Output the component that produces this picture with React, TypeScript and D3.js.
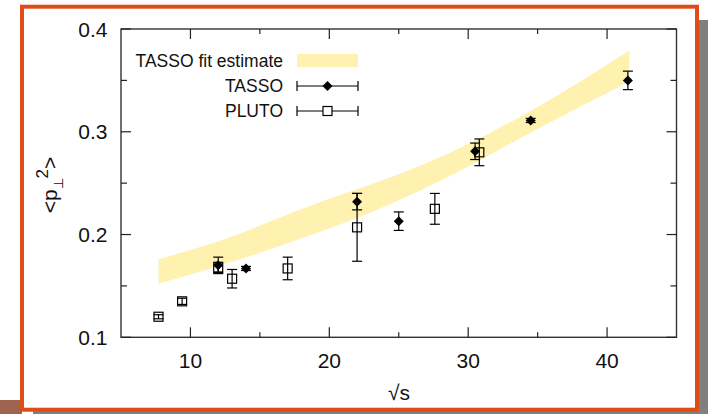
import React from "react";
import * as d3 from "d3";

// Band (TASSO fit estimate)
const bandSqrtS = [7.7, 11.7, 19.4, 22, 28.1, 34.6, 41.6];
const bandLow = [0.152, 0.168, 0.203, 0.216, 0.253, 0.3, 0.349];
const bandHigh = [0.176, 0.192, 0.232, 0.244, 0.276, 0.321, 0.379];

// TASSO points
const tassoSqrtS = [12, 14, 22, 25, 30.5, 34.5, 41.5];
const tassoVal = [0.17, 0.167, 0.232, 0.213, 0.281, 0.311, 0.35];
const tassoErr = [0.008, 0.002, 0.008, 0.009, 0.008, 0.002, 0.009];

// PLUTO points
const plutoSqrtS = [7.7, 9.4, 12, 13, 17, 22, 27.6, 30.8];
const plutoVal = [0.12, 0.135, 0.168, 0.157, 0.167, 0.207, 0.225, 0.28];
const plutoErr = [0.002, 0.003, 0.005, 0.009, 0.011, 0.033, 0.015, 0.013];

const xMajor = [10, 20, 30, 40];
const xMinor = [15, 25, 35];
const yMajor = [0.1, 0.2, 0.3, 0.4];
const yMinor = [0.15, 0.25, 0.35];

const legendLabels = ["TASSO fit estimate", "TASSO", "PLUTO"];

const FONT = "'Liberation Sans', Arial, sans-serif";

export default function App() {
  const x = d3.scaleLinear().domain([5, 45]).range([121, 676.5]);
  const y = d3.scaleLinear().domain([0.1, 0.4]).range([337.3, 29]);
  const [x0, x1] = x.range();
  const [y0, y1] = y.range();

  const bandData = bandSqrtS.map((s, i) => ({ s, lo: bandLow[i], hi: bandHigh[i] }));
  const area = d3
    .area<{ s: number; lo: number; hi: number }>()
    .x((d) => x(d.s))
    .y0((d) => y(d.lo))
    .y1((d) => y(d.hi))
    .curve(d3.curveMonotoneX);

  const cap = 5;
  const diamond = (cx: number, cy: number, r = 5) =>
    `M${cx},${cy - r}L${cx + r},${cy}L${cx},${cy + r}L${cx - r},${cy}Z`;

  const errBar = (cx: number, v: number, e: number, key: string) => (
    <g key={key} stroke="#000" strokeWidth={1.2}>
      <line x1={cx} x2={cx} y1={y(v - e)} y2={y(v + e)} />
      <line x1={cx - cap} x2={cx + cap} y1={y(v - e)} y2={y(v - e)} />
      <line x1={cx - cap} x2={cx + cap} y1={y(v + e)} y2={y(v + e)} />
    </g>
  );

  const legX0 = 297;
  const legX1 = 358;
  const legXm = (legX0 + legX1) / 2;
  const legY = [60.5, 86, 111];

  return (
    <svg
      width={708}
      height={414}
      style={{ position: "absolute", left: 0, top: 0, display: "block" }}
      fontFamily={FONT}
    >
      <rect x={0} y={0} width={708} height={414} fill="#fff" />
      {/* slide decoration */}
      <rect x={0} y={400} width={22} height={14} fill="#9e6450" />
      <rect x={699} y={20} width={9} height={394} fill="#808080" />
      <rect x={33} y={411} width={675} height={3} fill="#808080" />
      <rect x={22} y={6.7} width={675} height={403} fill="#fff" stroke="#e04b1a" strokeWidth={4} />

      {/* band */}
      <path d={area(bandData) || ""} fill="#fff1b0" />

      {/* axes frame */}
      <rect x={x0} y={y1} width={x1 - x0} height={y0 - y1} fill="none" stroke="#333" strokeWidth={1.4} />
      {xMajor.map((v) => (
        <g key={"xM" + v} stroke="#222" strokeWidth={1.2}>
          <line x1={x(v)} x2={x(v)} y1={y0} y2={y0 - 10} />
          <line x1={x(v)} x2={x(v)} y1={y1} y2={y1 + 10} />
        </g>
      ))}
      {xMinor.map((v) => (
        <g key={"xm" + v} stroke="#222" strokeWidth={1.2}>
          <line x1={x(v)} x2={x(v)} y1={y0} y2={y0 - 5} />
          <line x1={x(v)} x2={x(v)} y1={y1} y2={y1 + 5} />
        </g>
      ))}
      {yMajor.map((v) => (
        <g key={"yM" + v} stroke="#222" strokeWidth={1.2}>
          <line x1={x0} x2={x0 + 10} y1={y(v)} y2={y(v)} />
          <line x1={x1} x2={x1 - 10} y1={y(v)} y2={y(v)} />
        </g>
      ))}
      {yMinor.map((v) => (
        <g key={"ym" + v} stroke="#222" strokeWidth={1.2}>
          <line x1={x0} x2={x0 + 6} y1={y(v)} y2={y(v)} />
          <line x1={x1} x2={x1 - 6} y1={y(v)} y2={y(v)} />
        </g>
      ))}

      {/* tick labels */}
      {xMajor.map((v) => (
        <text key={"xl" + v} x={x(v)} y={368} fontSize={21} textAnchor="middle" fill="#111">
          {v}
        </text>
      ))}
      {yMajor.map((v) => (
        <text key={"yl" + v} x={107.5} y={y(v) + 7.5} fontSize={21} textAnchor="end" fill="#111">
          {v.toFixed(1)}
        </text>
      ))}

      {/* axis titles */}
      <text x={399} y={400} fontSize={21} textAnchor="middle" fill="#111">
        √s
      </text>
      <text transform="translate(57,185) rotate(-90)" fontSize={21} textAnchor="middle" fill="#111">
        <tspan>&lt;p</tspan>
        <tspan fontSize={13} dy={6}>⊥</tspan>
        <tspan fontSize={17} dy={-15}>2</tspan>
        <tspan fontSize={21} dy={9}>&gt;</tspan>
      </text>

      {/* PLUTO */}
      {plutoSqrtS.map((s, i) => (
        <g key={"p" + i}>
          {errBar(x(s), plutoVal[i], plutoErr[i], "pe" + i)}
          <rect
            x={x(s) - 4.5}
            y={y(plutoVal[i]) - 4.5}
            width={9}
            height={9}
            fill="none"
            stroke="#000"
            strokeWidth={1.2}
          />
        </g>
      ))}

      {/* TASSO */}
      {tassoSqrtS.map((s, i) => (
        <g key={"t" + i}>
          {errBar(x(s), tassoVal[i], tassoErr[i], "te" + i)}
          <path d={diamond(x(s), y(tassoVal[i]))} fill="#000" />
        </g>
      ))}

      {/* legend */}
      {legendLabels.map((l, i) => (
        <text key={"lg" + i} x={283} y={legY[i] + 6} fontSize={17.5} textAnchor="end" fill="#111">
          {l}
        </text>
      ))}
      <rect x={legX0} y={54} width={legX1 - legX0} height={13} fill="#fff1b0" />
      {[1, 2].map((i) => (
        <g key={"lb" + i} stroke="#000" strokeWidth={1.2}>
          <line x1={legX0} x2={legX1} y1={legY[i]} y2={legY[i]} />
          <line x1={legX0} x2={legX0} y1={legY[i] - 5} y2={legY[i] + 5} />
          <line x1={legX1} x2={legX1} y1={legY[i] - 5} y2={legY[i] + 5} />
        </g>
      ))}
      <path d={diamond(legXm, legY[1])} fill="#000" />
      <rect x={legXm - 4.5} y={legY[2] - 4.5} width={9} height={9} fill="#fff" stroke="#000" strokeWidth={1.2} />
    </svg>
  );
}
